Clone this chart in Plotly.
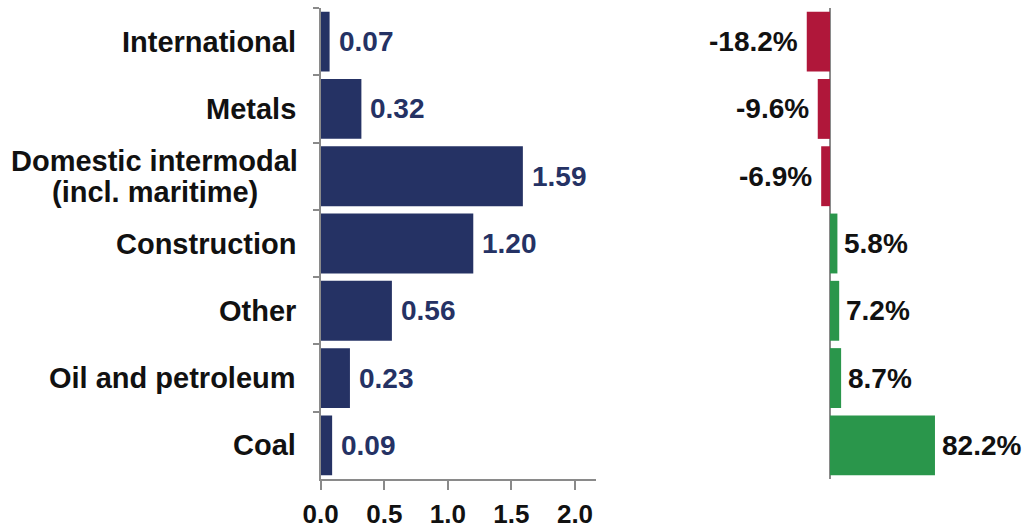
import plotly.graph_objects as go

# Commodity categories, top to bottom
categories = [
    "International",
    "Metals",
    "Domestic intermodal<br>(incl. maritime)",
    "Construction",
    "Other",
    "Oil and petroleum",
    "Coal",
]
# Volume (left panel)
volumes = [0.07, 0.32, 1.59, 1.20, 0.56, 0.23, 0.09]
# Year-over-year change in % (right panel)
changes = [-18.2, -9.6, -6.9, 5.8, 7.2, 8.7, 82.2]
x_ticks = [0.0, 0.5, 1.0, 1.5, 2.0]

NAVY = "#253264"
RED = "#B0173A"
GREEN = "#2A964B"
AXIS = "#8a8a8a"
FONT = "Liberation Sans"

W, H = 1026, 529

fig = go.Figure()

fig.add_trace(go.Bar(
    x=volumes, y=categories, orientation="h",
    marker=dict(color=NAVY, line=dict(width=0)),
    xaxis="x", yaxis="y", showlegend=False, hoverinfo="skip",
))

fig.add_trace(go.Bar(
    x=changes, y=categories, orientation="h",
    marker=dict(color=[RED if c < 0 else GREEN for c in changes], line=dict(width=0)),
    xaxis="x2", yaxis="y2", showlegend=False, hoverinfo="skip",
))

annotations = []
# value labels for the volume bars
for cat, v in zip(categories, volumes):
    annotations.append(dict(
        x=v, y=cat, xref="x", yref="y", text=f"{v:.2f}",
        xanchor="left", yanchor="middle", xshift=7, showarrow=False,
        font=dict(family=FONT, size=28, color=NAVY, weight="bold"),
    ))
# percentage labels for the change bars
for cat, c in zip(categories, changes):
    annotations.append(dict(
        x=c, y=cat, xref="x2", yref="y2", text=f"{c:.1f}%",
        xanchor="right" if c < 0 else "left", yanchor="middle",
        xshift=-7 if c < 0 else 5, showarrow=False,
        font=dict(family=FONT, size=28, color="#111111", weight="bold"),
    ))
# category labels, lines centred on each other
for cat in categories:
    lines = cat.split("<br>")
    n = len(lines)
    for i, line in enumerate(lines):
        annotations.append(dict(
            x=0, y=cat, xref="x", yref="y", text=line,
            xanchor="center" if n > 1 else "right", yanchor="middle",
            xshift=-166 if n > 1 else -23, yshift=(n - 1) / 2 * 31 - i * 31,
            showarrow=False,
            font=dict(family=FONT, size=29, color="#111111", weight="bold"),
        ))

y_dom = [1 - 479 / H, 1 - 8 / H]
left_dom = [320.7 / W, 596 / W]
right_dom = [780 / W, 1000 / W]
px_per_pct = 1.277
zero_px = 830

fig.update_layout(
    width=W, height=H,
    margin=dict(l=0, r=0, t=0, b=0),
    paper_bgcolor="white", plot_bgcolor="white",
    bargap=0.11,
    annotations=annotations,
    xaxis=dict(
        domain=left_dom, range=[0, (596 - 320.7) / 127.15],
        tickvals=x_ticks, ticktext=[f"{t:.1f}" for t in x_ticks],
        ticks="outside", ticklen=9, tickwidth=1.5, tickcolor=AXIS,
        showline=True, linecolor=AXIS, linewidth=1.5,
        showgrid=False, zeroline=False, automargin=False,
        ticklabelstandoff=2,
        tickfont=dict(family=FONT, size=26, color="#111111", weight="bold"),
    ),
    yaxis=dict(
        domain=y_dom, type="category", categoryorder="array",
        categoryarray=categories, autorange="reversed",
        showticklabels=False, ticks="outside", tickson="boundaries",
        ticklen=6, tickwidth=1.5, tickcolor=AXIS,
        showline=True, linecolor=AXIS, linewidth=1.5,
        showgrid=False, zeroline=False, automargin=False,
    ),
    xaxis2=dict(
        domain=right_dom,
        range=[(right_dom[0] * W - zero_px) / px_per_pct, (right_dom[1] * W - zero_px) / px_per_pct],
        showticklabels=False, ticks="", showgrid=False, showline=False,
        zeroline=True, zerolinecolor=AXIS, zerolinewidth=1.5, automargin=False,
    ),
    yaxis2=dict(
        domain=y_dom, type="category", categoryorder="array",
        categoryarray=categories, autorange="reversed", anchor="x2",
        showticklabels=False, ticks="", showgrid=False, showline=False,
        zeroline=False, automargin=False,
    ),
)

fig.write_html("out.html")
